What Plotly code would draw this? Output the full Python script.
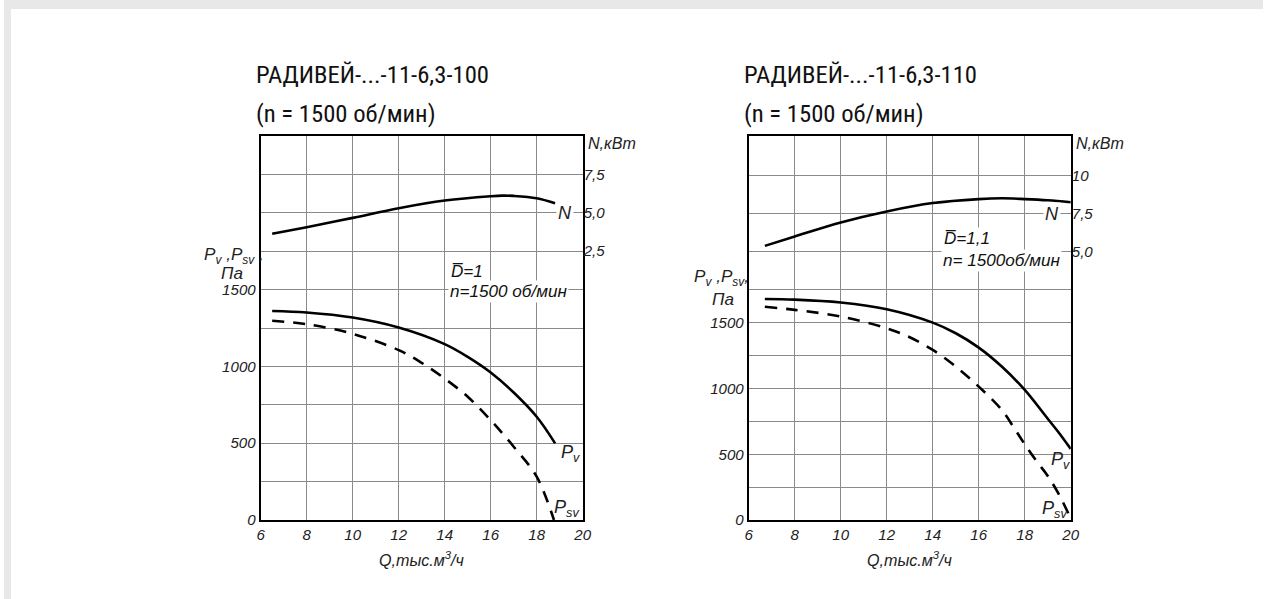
import plotly.graph_objects as go

# reference picture size; the page is photographed from a slightly larger viewport
W, H = 1264, 599
PW, PH = 1272, 607
S = PW / W  # font scale

# ---------------- data ----------------
q_n_100 = [6.5, 8, 10, 12, 14, 16, 16.5, 17, 18, 18.8]
n_100 = [3.63, 4.06, 4.67, 5.30, 5.80, 6.08, 6.12, 6.10, 5.95, 5.62]
q_pv_100 = [6.5, 8, 10, 12, 14, 15, 16, 17, 18, 18.8]
pv_100 = [1361, 1351, 1318, 1253, 1145, 1062, 960, 830, 672, 499]
q_psv_100 = [6.5, 8, 10, 12, 13, 14, 15, 16, 17, 18, 18.75]
psv_100 = [1297, 1275, 1212, 1106, 1023, 921, 802, 650, 477, 282, 0]

q_n_110 = [6.7, 8, 10, 12, 14, 16, 17, 18, 19, 20]
n_110 = [5.39, 6.01, 6.93, 7.65, 8.20, 8.46, 8.51, 8.46, 8.38, 8.25]
q_pv_110 = [6.7, 8, 10, 12, 14, 15, 16, 17, 18, 19, 19.5, 20]
pv_110 = [1681, 1676, 1654, 1603, 1501, 1420, 1311, 1167, 989, 770, 660, 540]
q_psv_110 = [6.7, 8, 10, 12, 13, 14, 15, 16, 17, 17.5, 18, 18.5, 19, 19.5, 20]
psv_110 = [1621, 1598, 1547, 1458, 1390, 1293, 1167, 1014, 837, 710, 575, 450, 335, 190, 10]

x_ticks = [6, 8, 10, 12, 14, 16, 18, 20]
pa_ticks_100 = [0, 250, 500, 750, 1000, 1250, 1500]
pa_ticks_110 = [0, 250, 500, 750, 1000, 1250, 1500, 1750]
n_ticks_100 = [2.5, 5.0, 7.5]
n_ticks_110 = [5.0, 7.5, 10.0]

titles = ["РАДИВЕЙ-...-11-6,3-100", "РАДИВЕЙ-...-11-6,3-110"]
subtitle = "(n = 1500 об/мин)"
notes = [("D\u0305=1", "n=1500 об/мин"), ("D\u0305=1,1", "n= 1500об/мин")]


def fmt_n(v):
    s = f"{v:.1f}".replace(".", ",")
    return "10" if v == 10 else s


def fmt_pa(v):
    return str(v) if v % 500 == 0 else ""


def fs(size):
    return round(size * S, 2)


ITAL = dict(family="Liberation Sans, Arial, sans-serif", size=fs(15), color="#222", style="italic")
TITLEF = dict(family="Liberation Sans Narrow, Roboto Condensed, Arial Narrow, sans-serif",
              size=fs(24.5), color="#111")
GRID = "#8a8a8a"
LINE = dict(color="#000", width=2.6)

fig = go.Figure()

# left chart traces
fig.add_trace(go.Scatter(x=q_n_100, y=n_100, xaxis="x", yaxis="y2", mode="lines",
                         line=dict(**LINE, shape="spline"), showlegend=False))
fig.add_trace(go.Scatter(x=q_pv_100, y=pv_100, xaxis="x", yaxis="y", mode="lines",
                         line=dict(**LINE, shape="spline"), showlegend=False))
fig.add_trace(go.Scatter(x=q_psv_100, y=psv_100, xaxis="x", yaxis="y", mode="lines",
                         line=dict(color="#000", width=2.6, dash="12px,9px", shape="spline"),
                         showlegend=False))
# right chart traces
fig.add_trace(go.Scatter(x=q_n_110, y=n_110, xaxis="x2", yaxis="y4", mode="lines",
                         line=dict(**LINE, shape="spline"), showlegend=False))
fig.add_trace(go.Scatter(x=q_pv_110, y=pv_110, xaxis="x2", yaxis="y3", mode="lines",
                         line=dict(**LINE, shape="spline"), showlegend=False))
fig.add_trace(go.Scatter(x=q_psv_110, y=psv_110, xaxis="x2", yaxis="y3", mode="lines",
                         line=dict(color="#000", width=2.6, dash="12px,9px", shape="spline"),
                         showlegend=False))

ydom = [1 - 520 / H, 1 - 136 / H]
xdom_l = [257.7 / W, 581 / W]
xdom_r = [747.7 / W, 1071 / W]


def xaxis(dom, anchor):
    return dict(domain=dom, anchor=anchor, range=[6, 20], tickvals=x_ticks,
                ticktext=[str(v) for v in x_ticks], showgrid=True, gridcolor=GRID, gridwidth=1,
                showline=True, linecolor="#000", linewidth=2, mirror=True, zeroline=False,
                ticks="", tickfont=ITAL, fixedrange=True, ticklabelstandoff=0)


def yaxis_pa(rng, ticks, anchor):
    return dict(domain=ydom, anchor=anchor, range=rng, tickvals=ticks,
                ticktext=[fmt_pa(v) for v in ticks], showgrid=True, gridcolor=GRID, gridwidth=1,
                showline=True, linecolor="#000", linewidth=2, mirror=True, zeroline=False,
                ticks="", tickfont=ITAL, fixedrange=True)


def yaxis_n(rng, ticks, overlay, anchor):
    return dict(domain=ydom, anchor=anchor, overlaying=overlay, side="right", range=rng,
                tickvals=ticks, ticktext=[fmt_n(v) for v in ticks], showgrid=True,
                gridcolor=GRID, gridwidth=1, showline=False, zeroline=False, ticks="",
                tickfont=ITAL, fixedrange=True)


fig.update_layout(
    width=PW, height=PH, autosize=False,
    margin=dict(l=0, r=0, t=0, b=0, pad=0),
    paper_bgcolor="#ffffff", plot_bgcolor="#ffffff",
    xaxis=xaxis(xdom_l, "y"),
    yaxis=yaxis_pa([0, 2500], pa_ticks_100, "x"),
    yaxis2=yaxis_n([-15, 10], n_ticks_100, "y", "x"),
    xaxis2=xaxis(xdom_r, "y3"),
    yaxis3=yaxis_pa([0, 2920], pa_ticks_110, "x2"),
    yaxis4=yaxis_n([-12.6, 12.6], n_ticks_110, "y3", "x2"),
)

# gray frame edges of the page
fig.add_shape(type="rect", xref="paper", yref="paper", x0=0, x1=7 / W, y0=0, y1=1,
              fillcolor="#e8e8e8", line_width=0, layer="below")
fig.add_shape(type="rect", xref="paper", yref="paper", x0=0, x1=1, y0=1 - 9 / H, y1=1,
              fillcolor="#e8e8e8", line_width=0, layer="below")

anns = []
for i, (xd, xr) in enumerate([(xdom_l, "x"), (xdom_r, "x2")]):
    anns.append(dict(text=titles[i], xref="paper", yref="paper", x=xd[0] - 7 / W, y=1 - 75 / H,
                     xanchor="left", yanchor="middle", showarrow=False, font=TITLEF))
    anns.append(dict(text=subtitle, xref="paper", yref="paper", x=xd[0] - 7 / W, y=1 - 113 / H,
                     xanchor="left", yanchor="middle", showarrow=False, font=TITLEF))
    anns.append(dict(text="Q,тыс.м<sup>3</sup>/ч", xref=xr, yref="paper", x=13, y=1 - 559 / H,
                     xanchor="center", yanchor="middle", showarrow=False,
                     font=dict(ITAL, size=fs(16))))
    anns.append(dict(text="N,кВт", xref="paper", yref="paper", x=xd[1] + 3 / W, y=1 - 143 / H,
                     xanchor="left", yanchor="middle", showarrow=False,
                     font=dict(ITAL, size=fs(16))))

# Pa axis titles (two lines each)
PAF = dict(ITAL, size=fs(17))
anns += [
    dict(text="P<sub>v</sub> ,P<sub>sv</sub> ,", xref="paper", yref="paper", x=231 / W,
         y=1 - 256 / H, xanchor="center", yanchor="middle", showarrow=False, font=PAF),
    dict(text="Па", xref="paper", yref="paper", x=229 / W, y=1 - 273 / H, xanchor="center",
         yanchor="middle", showarrow=False, font=PAF),
    dict(text="P<sub>v</sub> ,P<sub>sv</sub>,", xref="paper", yref="paper", x=720 / W,
         y=1 - 278 / H, xanchor="center", yanchor="middle", showarrow=False, font=PAF),
    dict(text="Па", xref="paper", yref="paper", x=722 / W, y=1 - 299 / H, xanchor="center",
         yanchor="middle", showarrow=False, font=PAF),
]

# curve labels
LBL = dict(ITAL, size=fs(18))
anns += [
    dict(text="N", x=19.25, y=5.0, xref="x", yref="y2", showarrow=False, font=LBL, bgcolor="#fff"),
    dict(text="P<sub>v</sub>", x=19.45, y=430, xref="x", yref="y", showarrow=False, font=LBL),
    dict(text="P<sub>sv</sub>", x=19.3, y=75, xref="x", yref="y", showarrow=False, font=LBL),
    dict(text="N", x=19.2, y=7.45, xref="x2", yref="y4", showarrow=False, font=LBL, bgcolor="#fff"),
    dict(text="P<sub>v</sub>", x=19.55, y=455, xref="x2", yref="y3", showarrow=False, font=LBL),
    dict(text="P<sub>sv</sub>", x=19.3, y=80, xref="x2", yref="y3", showarrow=False, font=LBL),
]

# parameter notes
NOTE = dict(ITAL, size=fs(17), color="#111")
anns += [
    dict(text=notes[0][0], x=14.2, y=1615, xref="x", yref="y", xanchor="left", showarrow=False,
         font=NOTE, bgcolor="#fff"),
    dict(text=notes[0][1], x=14.15, y=1488, xref="x", yref="y", xanchor="left", showarrow=False,
         font=NOTE, bgcolor="#fff"),
    dict(text=notes[1][0], x=14.4, y=2140, xref="x2", yref="y3", xanchor="left", showarrow=False,
         font=NOTE, bgcolor="#fff"),
    dict(text=notes[1][1], x=14.35, y=1975, xref="x2", yref="y3", xanchor="left", showarrow=False,
         font=NOTE, bgcolor="#fff"),
]

fig.update_layout(annotations=anns)
fig.write_html("out.html", config={"displayModeBar": False},
               post_script="document.body.style.margin='0';document.body.style.overflow='hidden';"
                           "document.documentElement.style.overflow='hidden';")
